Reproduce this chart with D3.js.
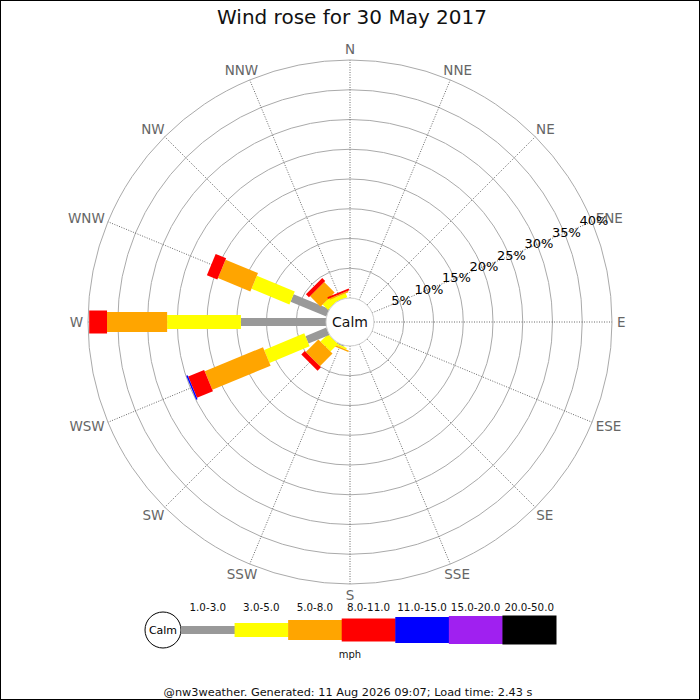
<!DOCTYPE html>
<html><head><meta charset="utf-8">
<script src="https://cdn.jsdelivr.net/npm/d3@7"></script>
<style>body{margin:0;background:#fff}svg{display:block;font-family:"DejaVu Sans",sans-serif}</style>
</head><body><svg id="c" width="700" height="700"></svg>
<script>
const directions = ["N","NNE","NE","ENE","E","ESE","SE","SSE","S","SSW","SW","WSW","W","WNW","NW","NNW"];
const speedClasses = ["1.0-3.0","3.0-5.0","5.0-8.0","8.0-11.0","11.0-15.0","15.0-20.0","20.0-50.0"];
const classColors = ["#999999","#ffff00","#ffa500","#ff0000","#0000ff","#a020f0","#000000"];
const classWidths = [8,14,20,23,26,28,29];
// percentage per direction for each speed class
const s1_3   = [0,0,0,0,0,0,0,0,0,0.2,0,3.8,14.3,6.5,0,0];
const s3_5   = [0,0,0,0,0,0,0,0,0,0.3,1.8,7.3,12.4,6.9,1.3,0.7];
const s5_8   = [0,0,0,0,0,0,0,0,0,0.25,3.0,10.6,10.1,5.9,2.5,0.25];
const s8_11  = [0,0,0,0,0,0,0,0,0,0,0.8,2.9,3.0,1.9,0.7,0.3];
const s11_15 = [0,0,0,0,0,0,0,0,0,0,0,0.25,0,0,0,0];
const s15_20 = [0,0,0,0,0,0,0,0,0,0,0,0,0,0,0,0];
const s20_50 = [0,0,0,0,0,0,0,0,0,0,0,0,0,0,0,0];
const series = [s1_3,s3_5,s5_8,s8_11,s11_15,s15_20,s20_50];
const ringTicks = [5,10,15,20,25,30,35,40];
const title = "Wind rose for 30 May 2017";
const footer = "@nw3weather. Generated: 11 Aug 2026 09:07; Load time: 2.43 s";

const svg = d3.select("#c");
const cx = 350, cy = 322, r0 = 24, r1 = 262;
const r = d3.scaleLinear().domain([0,40]).range([r0,r1]);
const ang = d3.scaleLinear().domain([0,16]).range([0,360]);

svg.append("rect").attr("x",0.5).attr("y",0.5).attr("width",699).attr("height",699)
  .attr("fill","#fff").attr("stroke","#000");

svg.append("text").attr("x",352).attr("y",17).attr("text-anchor","middle")
  .attr("dominant-baseline","central").attr("font-size",20).attr("fill","#111").text(title);

const g = svg.append("g").attr("transform",`translate(${cx},${cy})`);

g.selectAll("circle.ring").data(ringTicks).join("circle").attr("class","ring")
  .attr("r",d=>r(d)).attr("fill","none").attr("stroke","#aaa").attr("stroke-width",1);

const pt = (deg, rad) => [rad*Math.sin(deg*Math.PI/180), -rad*Math.cos(deg*Math.PI/180)];

g.selectAll("line.axis").data(directions).join("line").attr("class","axis")
  .attr("x1",(d,i)=>pt(ang(i),r0)[0]).attr("y1",(d,i)=>pt(ang(i),r0)[1])
  .attr("x2",(d,i)=>pt(ang(i),r1)[0]).attr("y2",(d,i)=>pt(ang(i),r1)[1])
  .attr("stroke","#444").attr("stroke-width",0.8).attr("stroke-dasharray","1,1.5");

const lr = 266;
g.selectAll("text.dir").data(directions).join("text").attr("class","dir")
  .attr("text-anchor","middle").attr("dominant-baseline","central")
  .attr("font-size",13.5).attr("fill","#666").text(d=>d)
  .each(function(d,i){
    const bb = this.getBBox();
    const a = ang(i)*Math.PI/180;
    const p = pt(ang(i), lr);
    d3.select(this).attr("x", p[0] + (bb.width/2+1)*Math.sin(a))
      .attr("y", p[1] - 7*Math.cos(a));
  });

// bars
directions.forEach((d,i)=>{
  const bg = g.append("g").attr("transform",`rotate(${ang(i)-90})`);
  let cum = 0;
  series.forEach((s,k)=>{
    const v = s[i];
    if (v>0) {
      bg.append("rect").attr("x",r(cum)).attr("width",r(cum+v)-r(cum))
        .attr("y",-classWidths[k]/2).attr("height",classWidths[k]).attr("fill",classColors[k]);
    }
    cum += v;
  });
});

g.append("circle").attr("r",r0).attr("fill","#fff").attr("stroke","#ccc");
g.append("text").attr("text-anchor","middle").attr("dominant-baseline","central")
  .attr("font-size",14).attr("fill","#111").text("Calm");

g.selectAll("text.pct").data(ringTicks).join("text").attr("class","pct")
  .attr("x",d=>pt(67.5,r(d)+2)[0]).attr("y",d=>pt(67.5,r(d)+2)[1])
  .attr("text-anchor","middle").attr("dominant-baseline","central")
  .attr("font-size",13).attr("fill","#000").text(d=>d+"%");

// legend
const lx = d3.scaleBand().domain(speedClasses).range([181,556]);
const ly = 630;
const lg = svg.append("g");
lg.append("circle").attr("cx",163).attr("cy",ly).attr("r",18).attr("fill","#fff").attr("stroke","#000");
lg.append("text").attr("x",163).attr("y",ly).attr("text-anchor","middle").attr("dominant-baseline","central")
  .attr("font-size",11).text("Calm");
lg.selectAll("rect").data(speedClasses).join("rect")
  .attr("x",d=>lx(d)).attr("width",lx.bandwidth()+0.5)
  .attr("y",(d,k)=>ly-classWidths[k]/2).attr("height",(d,k)=>classWidths[k])
  .attr("fill",(d,k)=>classColors[k]);
lg.selectAll("text.lab").data(speedClasses).join("text").attr("class","lab")
  .attr("x",d=>lx(d)+lx.bandwidth()/2).attr("y",607).attr("text-anchor","middle")
  .attr("dominant-baseline","central").attr("font-size",10.3).attr("fill","#111").text(d=>d);
lg.append("text").attr("x",350).attr("y",654).attr("text-anchor","middle")
  .attr("dominant-baseline","central").attr("font-size",10).attr("fill","#111").text("mph");

svg.append("text").attr("x",348).attr("y",692).attr("text-anchor","middle")
  .attr("dominant-baseline","central").attr("font-size",11.3).attr("fill","#111").text(footer);
</script></body></html>
